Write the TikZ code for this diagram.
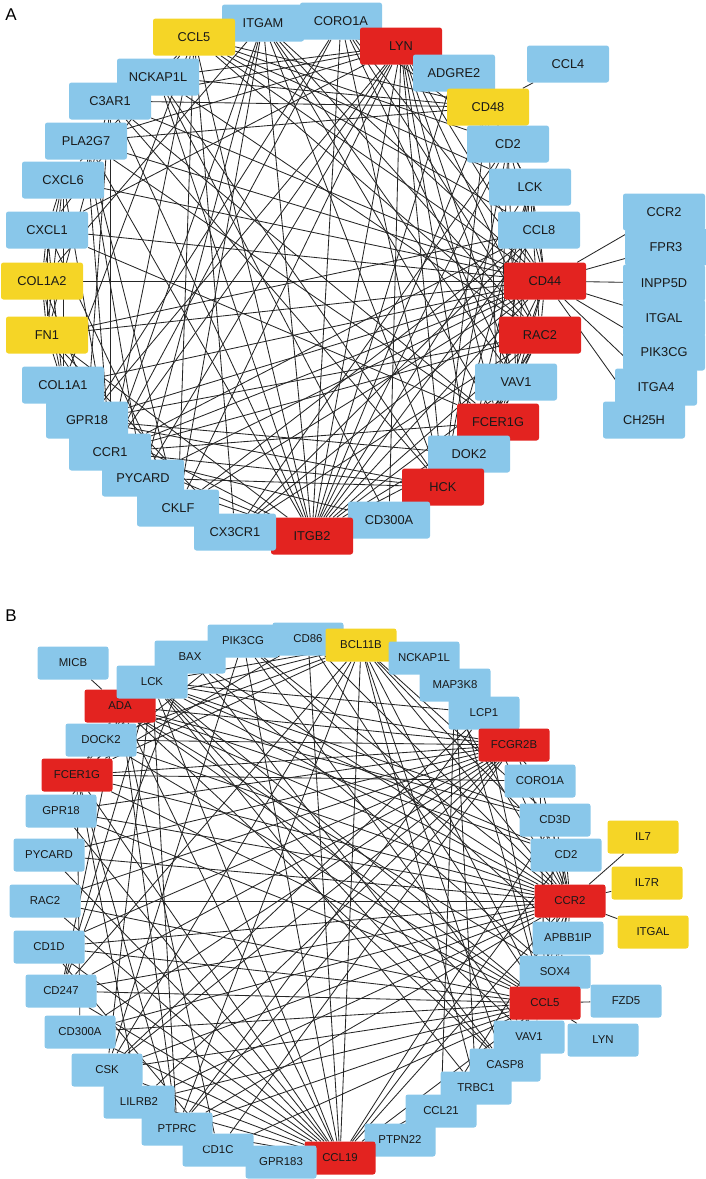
\documentclass[tikz,border=0pt]{standalone}
\usepackage{fontspec}
\setmainfont{Liberation Sans}
\usetikzlibrary{backgrounds}
\definecolor{nodeblue}{RGB}{137,199,234}
\definecolor{nodered}{RGB}{227,35,32}
\definecolor{nodeyellow}{RGB}{245,213,38}
\tikzset{
 gA/.style={rounded corners=2.5pt, minimum width=82pt, minimum height=37pt, inner sep=0pt, font=\fontsize{12.8}{14}\selectfont, text=black!90},
 gB/.style={rounded corners=2.5pt, minimum width=71pt, minimum height=33pt, inner sep=0pt, font=\fontsize{11.4}{13}\selectfont, text=black!90},
 bl/.style={fill=nodeblue}, rd/.style={fill=nodered}, yl/.style={fill=nodeyellow},
 edge/.style={draw=black!85, line width=0.85pt},
 panellabel/.style={font=\fontsize{17}{19}\selectfont, inner sep=0pt}
}
\begin{document}
\begin{tikzpicture}[x=1pt,y=-1pt]
\useasboundingbox (0,0) rectangle (706,1179);
\node[panellabel] (labA) at (11,15) {A};
\node[panellabel] (labB) at (11,616) {B};
% Panel A nodes
\foreach \n/\x/\y/\c in {ITGAM/263/23/bl, CORO1A/341/21/bl, LYN/401/46/rd, CCL5/194/37/yl,
  CCL4/568/64/bl, ADGRE2/454/73/bl, CD48/488/107/yl, CD2/508/144/bl, LCK/530/187/bl, CCL8/539/230/bl,
  CCR2/664/212/bl, FPR3/666/247/bl, INPP5D/664/283/bl, ITGAL/664/318/bl, PIK3CG/664/352/bl, ITGA4/656/387/bl, CH25H/644/420/bl,
  CD44/545/281/rd, RAC2/540/335/rd, VAV1/516/382/bl, FCER1G/498/422/rd, DOK2/469/454/bl, HCK/443/487/rd, CD300A/389/520/bl,
  ITGB2/312/536/rd, CX3CR1/235/532/bl, CKLF/178/508/bl, PYCARD/143/478/bl, CCR1/110/452/bl, GPR18/87/420/bl, COL1A1/63/385/bl,
  FN1/47/335/yl, COL1A2/42/281/yl, CXCL1/47/230/bl, CXCL6/63/180/bl, PLA2G7/86/141/bl, NCKAP1L/158/77/bl, C3AR1/110/101/bl}
  \node[gA,\c] (A\n) at (\x,\y) {\n};
% Panel B nodes
\foreach \n/\x/\y/\c in {MICB/73/663/bl, BAX/190/657/bl, PIK3CG/243/641/bl, CD86/308/639/bl, BCL11B/361/645/yl, ADA/120/706/rd, LCK/152/682/bl,
  NCKAP1L/424/658/bl, MAP3K8/455/685/bl, LCP1/484/713/bl, FCGR2B/514/745/rd, CORO1A/540/781/bl, CD3D/555/820/bl, CD2/566/855/bl,
  IL7/643/837/yl, IL7R/647/883/yl, ITGAL/653/932/yl, CCR2/570/901/rd, APBB1IP/568/938/bl, SOX4/555/972/bl, FZD5/626/1001/bl, LYN/603/1040/bl,
  CCL5/545/1003/rd, VAV1/529/1037/bl, CASP8/505/1065/bl, TRBC1/476/1088/bl, CCL21/441/1111/bl, PTPN22/400/1140/bl, CCL19/340/1158/rd,
  GPR183/281/1162/bl, CD1C/218/1150/bl, PTPRC/177/1129/bl, LILRB2/139/1102/bl, CSK/107/1070/bl, CD300A/80/1032/bl, CD247/61/991/bl,
  CD1D/49/947/bl, RAC2/45/901/bl, PYCARD/49/855/bl, GPR18/61/811/bl, FCER1G/77/775/rd, DOCK2/101/740/bl}
  \node[gB,\c] (B\n) at (\x,\y) {\n};
\begin{pgfonlayer}{background}
% Panel A edges
\foreach \s/\t in {CD44/CXCL1, CD44/COL1A2, CD44/FN1, CD44/CXCL6, CD44/PLA2G7, CD44/C3AR1, CD44/CCL5, CD44/ITGAM, CD44/CORO1A, CD44/LYN,
  CD44/CD2, CD44/LCK, CD44/CCL8, CD44/ITGB2, CD44/HCK, CD44/FCER1G, CD44/COL1A1, CD44/GPR18, CD44/CCR1, CD44/PYCARD, CD44/CX3CR1,
  CD44/CKLF, CD44/RAC2, CD44/VAV1, CD44/CCR2, CD44/FPR3, CD44/INPP5D, CD44/ITGAL, CD44/PIK3CG, CD44/ITGA4, CD44/CH25H,
  ITGB2/CCL5, ITGB2/ITGAM, ITGB2/CORO1A, ITGB2/LYN, ITGB2/ADGRE2, ITGB2/CD48, ITGB2/CD2, ITGB2/LCK, ITGB2/CCL8, ITGB2/RAC2,
  ITGB2/VAV1, ITGB2/FCER1G, ITGB2/DOK2, ITGB2/HCK, ITGB2/PYCARD, ITGB2/CCR1, ITGB2/GPR18, ITGB2/CKLF, ITGB2/CX3CR1, ITGB2/C3AR1,
  ITGB2/NCKAP1L, ITGB2/FN1, ITGB2/PLA2G7,
  LYN/ITGAM, LYN/NCKAP1L, LYN/C3AR1, LYN/PLA2G7, LYN/CXCL1, LYN/CCR1, LYN/GPR18, LYN/HCK, LYN/FCER1G, LYN/RAC2, LYN/VAV1,
  LYN/DOK2, LYN/CD300A, LYN/PYCARD, LYN/CKLF, LYN/CD48,
  HCK/ITGAM, HCK/CORO1A, HCK/NCKAP1L, HCK/C3AR1, HCK/CCR1, HCK/FCER1G, HCK/RAC2, HCK/VAV1, HCK/CD2, HCK/LCK, HCK/CD48, HCK/GPR18, HCK/PYCARD,
  RAC2/CORO1A, RAC2/NCKAP1L, RAC2/ITGAM, RAC2/CCR1, RAC2/VAV1, RAC2/LCK, RAC2/CCL5, RAC2/FCER1G, RAC2/DOK2, RAC2/CX3CR1, RAC2/GPR18,
  FCER1G/ITGAM, FCER1G/C3AR1, FCER1G/CCR1, FCER1G/CD48, FCER1G/LCK, FCER1G/CD2, FCER1G/VAV1, FCER1G/PLA2G7, FCER1G/CXCL1,
  CCL5/CCR1, CCL5/CX3CR1, CCL5/CKLF, CCL5/CCL8, CCL5/CXCL6, CCL5/CXCL1, CCL5/CD48, CCL5/LCK, CCL5/CD2, CCL5/COL1A1,
  CD48/CD2, CD48/LCK, CD48/CCL4, CD48/NCKAP1L, CD48/C3AR1, CD48/PLA2G7, CD48/ADGRE2,
  COL1A2/CXCL6, COL1A2/CXCL1, COL1A2/FN1, COL1A2/COL1A1, COL1A2/CCR1, COL1A2/ITGAM,
  FN1/CXCL6, FN1/CXCL1, FN1/COL1A1, FN1/CCL8, FN1/PYCARD, FN1/C3AR1, FN1/CX3CR1,
  CXCL6/CXCL1, CXCL6/COL1A1, CXCL6/CCR1, CXCL1/COL1A1, CXCL1/CKLF, PLA2G7/CCR1, PLA2G7/CKLF, PLA2G7/PYCARD,
  CD2/LCK, CD2/VAV1, CD2/CORO1A, CD2/CX3CR1, LCK/VAV1, LCK/DOK2, LCK/CCL8, CCL8/CCR1, CCL8/CX3CR1, CCL8/CKLF,
  DOK2/GPR18, CD300A/VAV1, CD300A/CCR1, CD300A/NCKAP1L, ITGAM/CCR1, ITGAM/PYCARD, ITGAM/CKLF, ITGAM/VAV1,
  CORO1A/CCR1, CORO1A/GPR18, CORO1A/VAV1, C3AR1/GPR18, C3AR1/CCR1, GPR18/CX3CR1}
  \draw[edge] (A\s) -- (A\t);
% Panel B edges
\foreach \s/\t in {CCR2/IL7, CCR2/IL7R, CCR2/ITGAL, CCR2/CD2, CCR2/CD3D, CCR2/CORO1A, CCR2/FCGR2B, CCR2/LCP1, CCR2/NCKAP1L, CCR2/BCL11B,
  CCR2/CD86, CCR2/PIK3CG, CCR2/BAX, CCR2/LCK, CCR2/ADA, CCR2/DOCK2, CCR2/FCER1G, CCR2/GPR18, CCR2/PYCARD, CCR2/RAC2, CCR2/CD1D,
  CCR2/CD247, CCR2/CD300A, CCR2/CSK, CCR2/LILRB2, CCR2/PTPRC, CCR2/CCL19, CCR2/CCL21, CCR2/CASP8, CCR2/SOX4, CCR2/APBB1IP, CCR2/CCL5,
  CCL5/FZD5, CCL5/LYN, CCL5/CD86, CCL5/BCL11B, CCL5/MAP3K8, CCL5/LCP1, CCL5/CD3D, CCL5/CD2, CCL5/CORO1A, CCL5/LCK, CCL5/ADA,
  CCL5/DOCK2, CCL5/FCER1G, CCL5/GPR18, CCL5/RAC2, CCL5/CD1D, CCL5/CD247, CCL5/CD300A, CCL5/CSK, CCL5/LILRB2, CCL5/PTPRC, CCL5/CD1C,
  CCL5/CCL19, CCL5/CCL21, CCL5/PTPN22, CCL5/VAV1, CCL5/APBB1IP, CCL5/SOX4,
  CCL19/CCL21, CCL19/GPR183, CCL19/CD1C, CCL19/PTPRC, CCL19/LILRB2, CCL19/CSK, CCL19/CD300A, CCL19/BCL11B, CCL19/CD86, CCL19/PIK3CG,
  CCL19/LCK, CCL19/ADA, CCL19/FCER1G, CCL19/GPR18, CCL19/PYCARD, CCL19/RAC2, CCL19/CD1D, CCL19/CD247, CCL19/CD2, CCL19/CD3D,
  CCL19/CASP8, CCL19/TRBC1,
  BCL11B/CD3D, BCL11B/CD2, BCL11B/TRBC1, BCL11B/LCK, BCL11B/DOCK2, BCL11B/FCER1G, BCL11B/CD247, BCL11B/CSK, BCL11B/PTPRC, BCL11B/ADA, BCL11B/CASP8,
  FCGR2B/FCER1G, FCGR2B/ADA, FCGR2B/LCK, FCGR2B/DOCK2, FCGR2B/GPR18, FCGR2B/PYCARD, FCGR2B/RAC2, FCGR2B/CD1D, FCGR2B/CD247,
  FCGR2B/PTPRC, FCGR2B/CD1C, FCGR2B/LILRB2, FCGR2B/CD300A, FCGR2B/CSK,
  FCER1G/ADA, FCER1G/LCK, FCER1G/DOCK2, FCER1G/PTPRC, FCER1G/LILRB2, FCER1G/CD300A, FCER1G/CORO1A, FCER1G/CD86, FCER1G/PIK3CG,
  ADA/MICB, ADA/LCK, ADA/DOCK2, ADA/PTPRC, ADA/CD1C, ADA/CD247, ADA/CD2, ADA/CD3D, ADA/CASP8, ADA/SOX4,
  LCK/CD2, LCK/CD3D, LCK/CD247, LCK/CSK, LCK/PTPRC, LCK/VAV1, LCK/TRBC1, LCK/CASP8, LCK/DOCK2, LCK/GPR18, LCK/LCP1,
  BAX/CASP8, BAX/SOX4, BAX/CD247, PIK3CG/VAV1, PIK3CG/CSK, PIK3CG/APBB1IP, MAP3K8/CCL21, MAP3K8/TRBC1,
  LCP1/CORO1A, LCP1/CSK, LCP1/PTPRC, CD1D/CD1C}
  \draw[edge] (B\s) -- (B\t);
\end{pgfonlayer}
\end{tikzpicture}
\end{document}
